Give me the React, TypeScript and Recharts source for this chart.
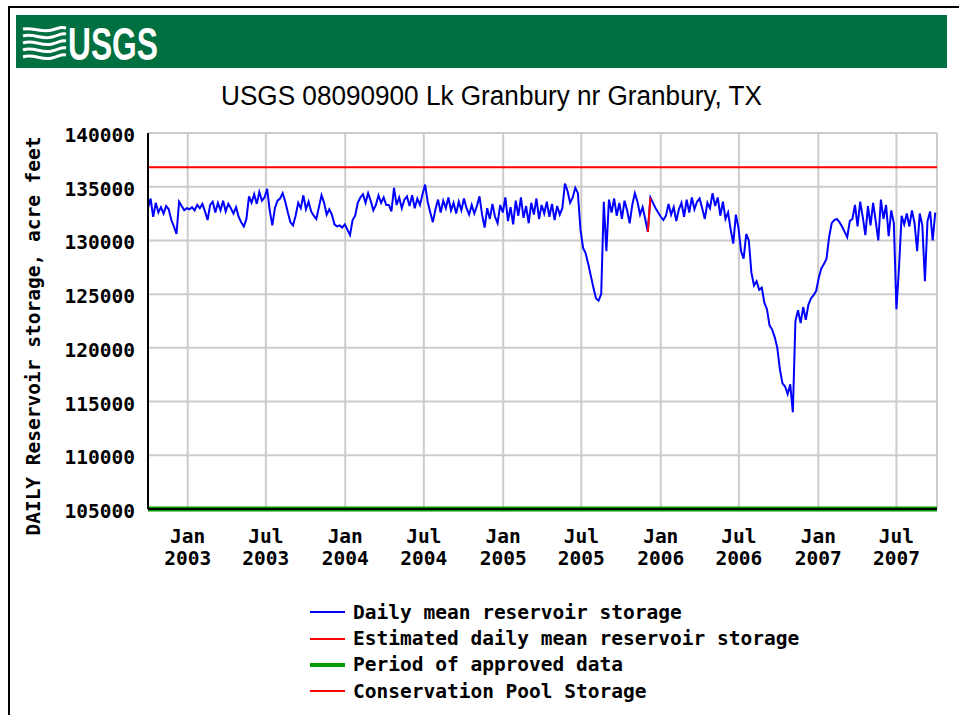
import React from 'react';
import { LineChart, Line, XAxis, YAxis, CartesianGrid } from 'recharts';

const DAY = 86400000;
const START = Date.UTC(2002, 9, 1);
const END = Date.UTC(2007, 9, 3);
const STEP_DAYS = 6;

// daily mean reservoir storage (acre-feet), every 6 days from 2002-10-01
const storage = [
  133000, 133900, 132200, 133500, 132600, 133100, 132500, 133200, 132900, 131900, 131300, 130600, 133600, 133200, 132800, 133000,
  132900, 133100, 132800, 133300, 133000, 133400, 132700, 131900, 133300, 133600, 132600, 133500, 132800, 133700, 132700, 133400,
  133000, 132500, 133100, 132200, 131700, 131300, 132000, 134100, 133500,
  134300, 133400, 134500, 133700, 134000, 134800, 132800, 131400, 133000, 133700, 133900, 134400, 133600, 132600, 131700, 131400,
  132300, 133500, 133000, 134200, 132900,
  133600, 132700, 132300, 132000, 133100, 134200, 133500, 132400, 132900, 132400, 131500, 131300, 131400, 131200, 131500, 131000,
  130500, 131900, 132300,
  133500, 134000, 134300, 133500, 134400, 133700, 132800, 133300, 134200, 133500, 134000, 133300, 133300, 132700, 134900, 133300,
  134000, 133000, 133800,
  134100, 133200, 134200, 133000, 133900, 133300, 134300, 135200, 133600, 132600, 131700, 132900, 133800, 132600, 133700, 133000,
  134000, 132800, 133500, 132500, 133600, 132800, 133900, 133000,
  132400, 133300, 132500, 133200, 134100, 132400, 131200, 133000, 132000, 133400, 132200, 131600, 133300, 132600, 134000, 131800,
  133100, 131500, 133700, 132300, 134000, 132100, 133200, 131600, 133500, 132400, 133900, 132000, 133300, 132500, 133600, 132200,
  133400, 131900, 133200, 132400, 133000,
  135300, 134600, 133500, 134000, 134900, 134400, 131000, 129300, 128800, 127800, 126700, 125600, 124600, 124400, 125000, 133600,
  129000, 133800, 132600, 133900, 132300, 133500, 132000, 133700, 132800, 131600,
  133300, 134400, 133600, 132400, 133100, 132000, 130800, 134000, 133500, 133000, 132600, 132200, 131900, 132300, 133400, 132400,
  133100, 131800, 132900, 133500, 132200, 133800, 132600, 134000, 132900, 133600, 133900,
  133000, 132000, 133500, 133000, 134400, 133200, 134000, 132300, 133600, 132000, 132600, 131000, 129700, 132400, 131200, 129000,
  128300, 130600, 130000, 127000, 125800, 126200, 125400, 125600, 124200, 123600, 122100, 121700, 121000, 120000, 118000, 116700,
  116400, 115700, 116600, 114000,
  122500, 123500, 122300, 123800, 122600, 124000, 124600, 124900, 125300, 126500, 127400, 127800, 128300, 130300, 131600, 131900,
  132000, 131700, 131300, 130800, 130300, 131800, 132000,
  133300, 131300, 133600, 132200, 130500, 133200, 131400, 133500, 131800, 130000, 133800, 132000, 133300, 130400, 132800, 131600,
  123600, 127500, 132300, 131500, 132500, 131300, 132800, 131600, 129000, 132500, 131400, 126200, 131800, 132700, 130000, 132600,
];

// estimated daily values (Dec 2005)
const estimatedDates = ['2005-12-02', '2005-12-08'];
const estimatedValues = [130800, 134000];

const conservationPool = 136823;
const approvedBase = 105000;

const xTickDates = [
  '2003-01-01', '2003-07-01', '2004-01-01', '2004-07-01', '2005-01-01',
  '2005-07-01', '2006-01-01', '2006-07-01', '2007-01-01', '2007-07-01',
];
const yTicks = [105000, 110000, 115000, 120000, 125000, 130000, 135000, 140000];
const MONTHS = ['Jan', 'Feb', 'Mar', 'Apr', 'May', 'Jun', 'Jul', 'Aug', 'Sep', 'Oct', 'Nov', 'Dec'];

const legendItems = [
  { label: 'Daily mean reservoir storage', color: '#0000ff', size: 2 },
  { label: 'Estimated daily mean reservoir storage', color: '#ff0000', size: 2 },
  { label: 'Period of approved data', color: '#009a00', size: 4 },
  { label: 'Conservation Pool Storage', color: '#ff0000', size: 2 },
];

const MONO = "'DejaVu Sans Mono', 'Liberation Mono', monospace";

const toTime = (s: string) => Date.parse(s + 'T00:00:00Z');

const storageData = storage.map((v, i) => ({ t: START + i * STEP_DAYS * DAY, v }));
const estimatedData = estimatedDates.map((d, i) => ({ t: toTime(d), v: estimatedValues[i] }));
const poolData = [{ t: START, v: conservationPool }, { t: END, v: conservationPool }];
const approvedData = [{ t: START, v: approvedBase }, { t: END, v: approvedBase }];
const xTicks = xTickDates.map(toTime);

// monthly tick marks along the top border
const monthTicks: number[] = [];
for (let y = 2002, m = 9; Date.UTC(y, m, 1) <= END; m++) {
  if (m > 11) { m = 0; y++; }
  monthTicks.push(Date.UTC(y, m, 1));
}

const DateTick = (props: any) => {
  const { x, y, payload } = props;
  const d = new Date(payload.value);
  return (
    <text x={x} y={y} textAnchor="middle" fontFamily={MONO} fontSize={19.5} fontWeight="bold" fill="#000">
      <tspan x={x} dy={32}>{MONTHS[d.getUTCMonth()]}</tspan>
      <tspan x={x} dy={22}>{d.getUTCFullYear()}</tspan>
    </text>
  );
};

const ValueTick = (props: any) => {
  const { x, y, payload } = props;
  return (
    <text x={x} y={y} dy={9} textAnchor="end" fontFamily={MONO} fontSize={19.5} fontWeight="bold" fill="#000">
      {payload.value}
    </text>
  );
};

const EmptyTick = () => <g />;

const Logo = () => (
  <svg width={959} height={120} style={{ position: 'absolute', left: 0, top: 0 }}>
    <rect x={16} y={15} width={931} height={53} fill="#007041" />
    <g stroke="#fff" strokeWidth={3} fill="none">
      <path d="M23 29 C 33 27, 42 33, 52 30 S 62 27, 66 28" />
      <path d="M23 36 C 33 33, 42 40, 52 37 S 62 33, 66 34" />
      <path d="M23 43 C 33 39, 42 47, 52 44 S 62 40, 66 41" />
      <path d="M23 50 C 33 46, 42 54, 52 51 S 62 47, 66 48" />
      <path d="M23 57 C 33 53, 42 61, 52 58 S 62 54, 66 55" />
    </g>
    <text x={68} y={60} textLength={90} lengthAdjust="spacingAndGlyphs" fill="#fff"
      fontFamily="'Liberation Sans', Arial, sans-serif" fontWeight="bold" fontSize={46}>USGS</text>
    <text x={221} y={105} textLength={541} lengthAdjust="spacingAndGlyphs" fill="#000"
      fontFamily="'Liberation Sans', Arial, sans-serif" fontSize={27}>USGS 08090900 Lk Granbury nr Granbury, TX</text>
  </svg>
);

export default function App() {
  return (
    <div style={{ position: 'absolute', left: 0, top: 0, width: 959, height: 715, overflow: 'hidden', background: '#fff' }}>
      <div style={{ position: 'absolute', left: 8, top: 6, width: 1000, height: 1000, borderTop: '2px solid #000', borderLeft: '2px solid #000' }} />
      <LineChart width={959} height={715} margin={{ top: 133, right: 22, bottom: 146, left: 68 }}
        style={{ position: 'absolute', left: 0, top: 0 }}>
        <CartesianGrid xAxisId="bottom" yAxisId="left" stroke="#cccccc" strokeWidth={2} />
        <XAxis xAxisId="bottom" dataKey="t" type="number" domain={[START, END]} ticks={xTicks} interval={0}
          height={60} tick={<DateTick />} tickLine={false} tickSize={0} axisLine={{ stroke: '#000', strokeWidth: 2 }} />
        <XAxis xAxisId="top" orientation="top" dataKey="t" type="number" domain={[START, END]} ticks={monthTicks}
          interval={0} height={0} mirror tick={<EmptyTick />} tickSize={4} tickLine={{ stroke: '#000', strokeWidth: 1.5 }}
          axisLine={{ stroke: '#000', strokeWidth: 2 }} />
        <YAxis yAxisId="left" type="number" domain={[105000, 140000]} ticks={yTicks} interval={0} width={80}
          tick={<ValueTick />} tickLine={false} tickSize={0} tickMargin={13}
          axisLine={{ stroke: '#000', strokeWidth: 2 }} />
        <YAxis yAxisId="right" orientation="right" type="number" domain={[105000, 140000]} width={0}
          tick={false} tickLine={false} axisLine={{ stroke: '#000', strokeWidth: 2 }} />
        <Line xAxisId="bottom" yAxisId="left" data={poolData} dataKey="v" stroke="#ff0000" strokeWidth={2}
          dot={false} isAnimationActive={false} />
        <Line xAxisId="bottom" yAxisId="left" data={storageData} dataKey="v" stroke="#0000ff" strokeWidth={2}
          dot={false} isAnimationActive={false} />
        <Line xAxisId="bottom" yAxisId="left" data={estimatedData} dataKey="v" stroke="#ff0000" strokeWidth={2}
          dot={false} isAnimationActive={false} />
        <Line xAxisId="bottom" yAxisId="left" data={approvedData} dataKey="v" stroke="#009a00" strokeWidth={5}
          dot={false} isAnimationActive={false} />
      </LineChart>
      <Logo />
      <div style={{ position: 'absolute', left: 33, top: 336, transform: 'translate(-50%, -50%) rotate(-90deg)',
        whiteSpace: 'pre', fontFamily: MONO, fontSize: 19.5, fontWeight: 'bold', color: '#000' }}>
        DAILY Reservoir storage, acre feet
      </div>
      <div style={{ position: 'absolute', left: 310, top: 599, fontFamily: MONO, fontSize: 19.5, fontWeight: 'bold', color: '#000' }}>
        {legendItems.map((item) => (
          <div key={item.label} style={{ display: 'flex', alignItems: 'center', height: 26.4 }}>
            <div style={{ width: 35, height: item.size, background: item.color, marginRight: 8 }} />
            <span style={{ whiteSpace: 'pre' }}>{item.label}</span>
          </div>
        ))}
      </div>
    </div>
  );
}
